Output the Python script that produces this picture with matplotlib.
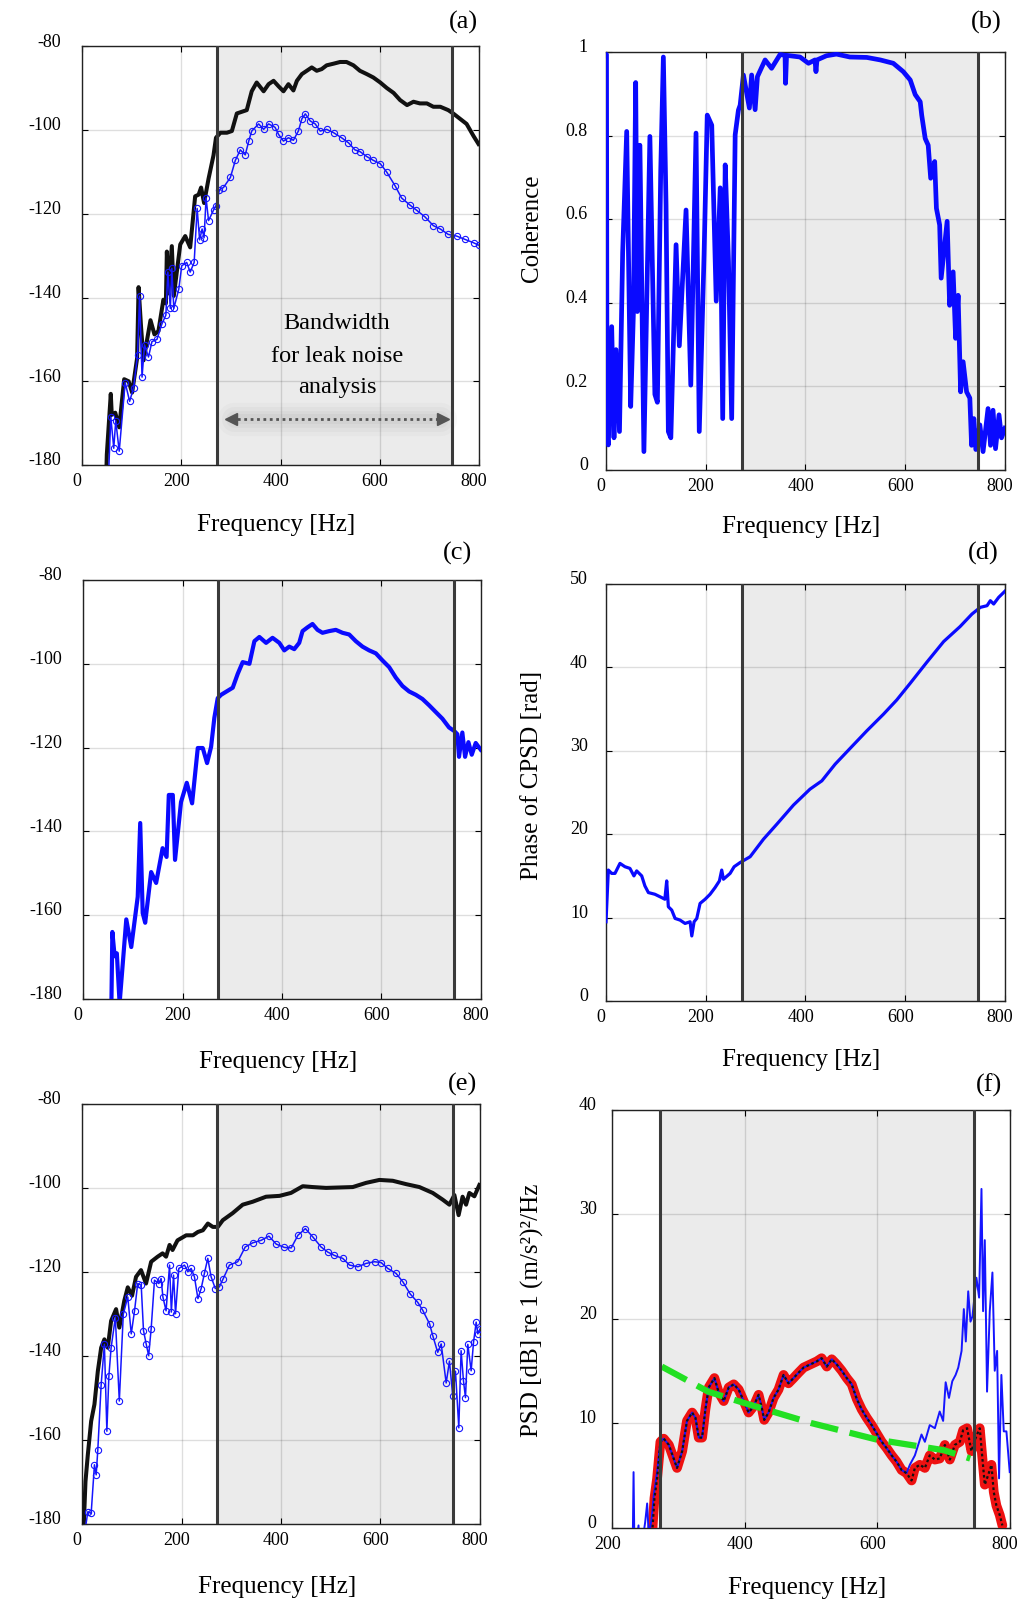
import matplotlib
matplotlib.use("Agg")
import matplotlib.pyplot as plt
from matplotlib.transforms import ScaledTranslation

plt.rcParams['font.family'] = ['Liberation Serif', 'DejaVu Serif']
plt.rcParams['axes.unicode_minus'] = False

# analysis band [Hz]
band = (272, 745)

# (a) PSD of the two sensors
fa_k = [49, 50, 58, 60, 67, 75, 85, 94, 101, 111, 114, 119, 124, 138, 146, 154, 164, 169, 171, 174,
        181, 185, 198, 208, 218, 228, 235, 240, 246, 255, 265, 270, 279, 292, 302, 312, 322, 332, 342, 352,
        366, 376, 386, 396, 406, 416, 426, 433, 443, 453, 463, 473, 483, 493, 507, 520, 533, 547, 560, 574,
        587, 601, 614, 628, 641, 655, 668, 681, 695, 708, 722, 738, 748, 762, 775, 789, 799]
pa_k = [-182, -177.5, -163, -168, -167.5, -171, -159.5, -160, -162.7, -154.5, -137.5, -147, -155, -145.4, -148.8, -148, -140.5, -141.4, -129, -139,
        -127.7, -139.6, -127.3, -125.3, -128, -115.8, -115.4, -113.7, -117.4, -111.6, -106, -101.8, -100.6, -100.6, -100.2, -96, -95.6, -95.2, -90.7, -88.6,
        -90.7, -89, -88.2, -89.5, -90.7, -89, -90.5, -88.2, -86.6, -85.8, -85, -85.8, -85.4, -84.5, -84.1, -83.7, -83.7, -84.5, -85.8, -86.6,
        -87.4, -88.6, -89.9, -91.1, -92.8, -94, -93.2, -93.6, -93.6, -94.4, -94.4, -95.2, -96, -97.3, -98.5, -101.4, -103.3]
fa_b = [54, 58, 64, 68, 75, 87, 96, 104, 112, 116, 121, 126, 134, 141, 151, 161, 169, 173, 178, 181,
        185, 195, 201, 211, 218, 226, 232, 237, 242, 246, 250, 255, 265, 270, 277, 285, 299, 309, 319, 329,
        336, 342, 356, 366, 376, 389, 396, 406, 416, 426, 436, 443, 450, 460, 470, 480, 493, 507, 523, 537,
        550, 560, 574, 587, 601, 614, 631, 644, 661, 674, 691, 708, 722, 738, 755, 772, 789, 800]
pa_b = [-181, -168.5, -176, -169.4, -176.7, -160.3, -164.8, -161.5, -153.7, -139.7, -159, -151.3, -154.2, -150.5, -150, -146.3, -144.2, -133.9, -142.6, -133,
        -142.6, -138, -132.4, -131.6, -133.9, -131.6, -118.7, -126.2, -123.6, -125.7, -116.2, -121.6, -119.1, -118, -114.2, -113.7, -111.3, -107.2, -104.7, -105.9,
        -102.6, -100.2, -98.5, -99.8, -98.5, -99.3, -101, -102.6, -101.8, -102.4, -100.2, -97.3, -96.1, -97.8, -98.5, -100.2, -99.8, -100.6, -101.8, -103,
        -104.7, -105.1, -106.3, -107.2, -108, -110, -113.3, -116.2, -117.9, -119.1, -120.7, -122.8, -123.6, -124.9, -125.3, -126.1, -126.9, -127.5]

# (b) coherence
fb = [0, 1, 2, 4.7, 11.4, 16, 20, 27, 33.4, 41.5, 49.5, 55, 59.5, 62.8, 68, 76, 88, 98, 103, 109.7,
      115, 120.4, 125, 130, 140.5, 147, 154, 160.5, 170, 180.5, 187, 196.6, 203, 212, 221, 229, 234, 239, 245.6, 252,
      259, 265.5, 269, 275.5, 287.5, 292, 299, 303.6, 319, 332, 349, 359, 360, 362, 389, 406, 419, 421, 423, 442,
      462, 489, 523, 550, 576, 596, 610, 620, 630, 633, 640, 646, 651, 659, 662.5, 669, 672, 684, 689, 696,
      701, 706, 711, 716, 723, 729.5, 733, 737.5, 741.5, 749.6, 756, 766, 771, 776, 781, 788, 793, 800]
cb = [0.994, 0.994, 0.084, 0.060, 0.343, 0.077, 0.288, 0.092, 0.520, 0.810, 0.152, 0.379, 0.927, 0.379, 0.777, 0.044, 0.798, 0.181, 0.162, 0.714,
      0.988, 0.633, 0.092, 0.077, 0.539, 0.297, 0.467, 0.622, 0.203, 0.806, 0.092, 0.514, 0.849, 0.825, 0.404, 0.675, 0.123, 0.730, 0.498, 0.123,
      0.802, 0.861, 0.873, 0.945, 0.866, 0.945, 0.862, 0.941, 0.981, 0.961, 0.994, 0.992, 0.925, 0.992, 0.988, 0.973, 0.981, 0.953, 0.981, 0.991,
      0.995, 0.988, 0.987, 0.981, 0.973, 0.953, 0.933, 0.898, 0.881, 0.849, 0.793, 0.777, 0.698, 0.738, 0.626, 0.586, 0.459, 0.595, 0.394, 0.474,
      0.315, 0.418, 0.187, 0.259, 0.187, 0.172, 0.059, 0.123, 0.049, 0.108, 0.044, 0.147, 0.059, 0.143, 0.051, 0.132, 0.077, 0.100]

# (c) CPSD magnitude
fc = [57, 59, 63.6, 68, 73.6, 87, 97, 110, 115, 120, 125, 137, 147, 160, 168, 172.5, 180.5, 185, 197, 208.6,
      219.3, 230.7, 240.7, 249.4, 257.5, 264, 270.8, 277.6, 301, 311, 321, 334.5, 344.5, 354.5, 368, 381, 394.6, 404.6, 414.6, 424.6,
      434.6, 441.3, 451.3, 461.3, 471.4, 481.4, 494.8, 508.2, 521.6, 535, 548.4, 561.8, 575.2, 588.6, 602, 615.4, 628.8, 642.2, 655.5, 669,
      682.3, 695.7, 709, 722.4, 735.8, 745.8, 752.5, 755.8, 762.5, 768, 774.7, 781.4, 789.4, 799.4]
pc = [-182, -164, -169.8, -169.1, -181, -161, -167.6, -155.6, -138, -159.5, -161.8, -149.7, -152.3, -144, -146.1, -131.3, -131.3, -146.8, -133, -128.4,
      -133.3, -120.1, -120.1, -123.7, -119.8, -112.9, -108.2, -107.4, -105.7, -102.4, -99.6, -100, -94.6, -93.6, -95, -93.8, -95, -96.8, -95.9, -96.5,
      -95, -92.2, -91.3, -90.5, -91.9, -92.6, -92.2, -91.9, -92.6, -93, -94.6, -95.9, -96.8, -97.5, -99.2, -100.8, -103.3, -105.3, -106.6, -107.4,
      -108.4, -109.9, -111.5, -113.1, -115.2, -116, -116.8, -122.2, -116.4, -122.2, -118.7, -121.7, -118.9, -120.5]

# (d) phase of CPSD
fd = [0, 4.7, 11.4, 18, 28, 38, 48, 56, 61.5, 71.6, 78, 85, 98, 111.7, 118, 121.7, 125, 131.8, 138.5, 148.5,
      158.5, 168.6, 172, 176.6, 182, 188.6, 198.7, 208.7, 218.7, 227.4, 232, 235.5, 248.8, 256.9, 268.9, 289, 315.7, 342.5, 376, 409,
      432.8, 459.5, 489.6, 523, 556.5, 583, 610, 643, 677, 710, 733.8, 750.5, 764, 770.6, 777.3, 787.3, 801]
phd = [9.5, 15.7, 15.3, 15.3, 16.5, 16.1, 15.9, 15.0, 15.6, 15.0, 13.8, 13.0, 12.8, 12.4, 12.2, 14.4, 11.3, 10.9, 9.9, 9.7,
       9.3, 9.5, 7.8, 9.5, 9.9, 11.7, 12.2, 12.8, 13.6, 14.4, 15.7, 14.6, 15.3, 16.1, 16.6, 17.3, 19.4, 21.2, 23.5, 25.4,
       26.4, 28.4, 30.3, 32.4, 34.4, 36.1, 38.1, 40.6, 43.1, 44.9, 46.4, 47.2, 47.4, 48.0, 47.6, 48.4, 49.2]

# (e) PSD, second case
fe_k = [3, 7, 11.7, 18.4, 25, 31.8, 38.5, 45, 51.8, 58.5, 68.5, 75, 85, 92, 100.6, 108.6, 118.6, 128.7, 139, 152,
        162, 169, 176, 182, 192, 209.4, 223, 233, 243, 253, 263, 273, 283, 303, 323, 343, 370, 397, 420, 443.7,
        463.8, 490.6, 517.4, 544.2, 571, 597.8, 624.6, 651.4, 678.2, 705, 725, 738.5, 748.5, 757, 765, 772, 778.6, 788.7, 798.7]
pe_k = [-182, -170, -163.6, -155.6, -151.6, -143.7, -138.1, -136.1, -138.1, -131.7, -128.9, -133.3, -126.9, -123.7, -125.7, -121.2, -119.6, -122.8, -117.6, -116.4,
        -115.6, -116.4, -113.6, -114.8, -112.5, -111.3, -111.3, -110.5, -110.1, -108.5, -109.3, -109.3, -107.7, -106, -104, -103.3, -102.1, -101.9, -101.2, -99.6,
        -99.8, -100, -99.9, -99.8, -98.8, -98.1, -98.3, -99.1, -99.8, -101.2, -102.8, -104, -101.7, -106.5, -102.1, -104, -101.2, -102, -99.3]
fe_b = [7, 11.7, 18.4, 25, 28.5, 31.8, 38.5, 45, 50, 54, 58.5, 67, 75, 83, 92, 99, 105.6, 112, 119, 123.6,
        129, 134, 139, 145.7, 154.4, 159, 162.6, 169, 176, 179.6, 184, 188, 194.6, 206, 212.7, 219.4, 226, 233, 239.5, 246,
        252.8, 259.5, 268, 276, 284, 296.4, 313, 328, 343, 360, 375.7, 390.4, 407, 420.6, 434, 449, 464, 480.7, 494, 507.4,
        524, 537.7, 554.4, 571, 588, 601.3, 614.7, 631.4, 645, 659.8, 675, 685, 698.6, 705, 715, 722, 732, 738.6, 745.3, 750.7,
        757.4, 762, 766.8, 770.8, 775.5, 782.2, 787, 792.3, 795.6, 799.6]
pe_b = [-181, -177.2, -177.6, -166, -168.4, -162.4, -146.9, -137.3, -158, -144.9, -138.1, -130.9, -150.8, -130.1, -126, -134.8, -129.3, -122.8, -123.2, -134,
        -137.2, -140, -133.6, -122, -122.8, -121.6, -126, -129.3, -118.4, -129.6, -120.8, -130, -119.2, -118.4, -120, -119.2, -121.2, -126.4, -124, -120.4,
        -116.8, -121.2, -124, -123.6, -121.6, -118.4, -117.6, -114.1, -113.1, -112.5, -111.5, -113.4, -114.2, -114.3, -111.3, -109.7, -111.7, -114.1, -115.3, -116.1,
        -116.8, -118.4, -118.8, -118, -117.6, -117.8, -119.2, -120.4, -122.4, -125.3, -127.3, -129.2, -132.4, -135.2, -139.2, -137.2, -146.5, -141.3, -149.7, -143.7,
        -157.2, -138.8, -146, -150, -137.3, -143.6, -136.8, -132, -134.8, -133.7]

# (f) leak PSD
ff_r = [260.6, 264, 268, 273, 278, 285.7, 293, 298, 305.8, 313, 320.8, 325.8, 330.8, 335.8, 340.8, 345.8, 354.4, 361, 368.4, 376,
        383.5, 391, 398.5, 406, 413.5, 421, 426, 429.5, 436, 443.6, 451, 458.6, 466, 473.7, 481, 488.7, 498.7, 508.8, 516, 523.8,
        531.3, 538.8, 546.4, 553.9, 561.4, 569, 576.4, 584, 591.5, 599, 606.6, 614, 621.6, 629, 636.6, 644, 651.6, 656.6, 664, 671.7,
        679, 686.7, 694, 701.8, 709.3, 716.8, 724.3, 729.3, 735.3, 741.8, 748.4, 754.4, 758.4, 762, 767, 772, 775.5, 779.5, 784.5, 788.5]
pf_r = [-0.5, 2.8, 4.7, 8.2, 8.5, 7.9, 6.6, 5.7, 7.3, 10.2, 11, 10.5, 8.6, 8.6, 11.3, 13.4, 14.3, 12.9, 12.1, 13.4,
        13.7, 13.2, 12.1, 11, 11.6, 12.7, 11.4, 10.3, 11, 12.4, 13.2, 14.6, 13.8, 14.3, 14.8, 15.3, 15.6, 15.9, 16.2, 15.4,
        16.1, 15.6, 15, 14.3, 13.7, 12.3, 11.3, 10.5, 9.8, 9, 8.2, 7.6, 6.9, 6.3, 5.5, 5.2, 4.5, 5.7, 6, 5.7,
        6.9, 6.5, 6.6, 7.9, 6.5, 7.9, 8.2, 9.3, 9.5, 7.3, 8.6, 9.5, 6.6, 4.1, 5, 6, 3.4, 2.1, 1.2, 0.2]
ff_b_lo = [231, 232.5, 234, 240, 242, 250, 253, 255.6, 260, 263, 268]
pf_b_lo = [-3, 5.3, -3, 0.2, -3, 0.5, 2.3, -1, 1, 3.1, 5.3]
ff_b_hi = [649, 656.6, 666.6, 671.7, 679, 686.7, 694, 699.2, 703, 708, 713, 718, 722, 727, 730.4, 733.4, 737, 740.4, 743.4, 749.4,
           753.4, 757, 759.4, 762, 765.4, 769.5, 773.5, 777, 780.6, 783.5, 787, 790.6, 794.6, 799.6]
pf_b_hi = [6.0, 6.9, 8.9, 8.2, 9.8, 9.5, 11.1, 10.2, 13.9, 12.4, 14, 14.6, 15.3, 16.9, 20.9, 17.8, 22.6, 19.7, 20.2, 23.9,
           22, 32.4, 20.7, 27.5, 13, 20.7, 24.4, 15, 16.9, 4.7, 14.6, 9.2, 9.2, 5.3]
ff_g = [275, 345, 400, 500, 600, 700, 740]
pf_g = [15.4, 13.0, 11.9, 10.0, 8.4, 7.4, 6.6]

# blue trace in (f) = low part + shared in-band part + high part
ff_b = ff_b_lo + ff_r[3:56] + ff_b_hi
pf_b = pf_b_lo + pf_r[3:56] + pf_b_hi

W, H = 1020, 1605
fig = plt.figure(figsize=(W / 100, H / 100), dpi=100)


def px_axes(x0, y0, x1, y1):
    return fig.add_axes([x0 / W, 1 - y1 / H, (x1 - x0) / W, (y1 - y0) / H])


def style(ax, xlim, ylim, yticks, ylabels, ypad, xlab_y):
    ax.axvspan(band[0], band[1], color='#ebebeb', lw=0, zorder=0.1)
    for b in band:
        ax.axvline(b, color='#3a3a3a', lw=2.2, zorder=6)
    ax.set_xlim(*xlim)
    ax.set_ylim(*ylim)
    xt = [t for t in [0, 200, 400, 600, 800] if xlim[0] <= t <= xlim[1]]
    ax.set_xticks(xt)
    ax.set_xticklabels([str(t) for t in xt])
    ax.set_yticks(yticks)
    ax.set_yticklabels(ylabels)
    ax.set_axisbelow(True)
    ax.grid(True, color='black', alpha=0.13, lw=1.0)
    ax.tick_params(direction='in', length=4, width=0.8, top=True, right=True,
                   labelsize=13, colors='black')
    ax.tick_params(axis='y', pad=ypad)
    ax.tick_params(axis='x', pad=6)
    for s in ax.spines.values():
        s.set_linewidth(1.0)
        s.set_color('#222222')
    up = ScaledTranslation(0, 4.5 / 72, fig.dpi_scale_trans)
    left = ScaledTranslation(-3.5 / 72, 0, fig.dpi_scale_trans)
    for lab in ax.get_yticklabels():
        lab.set_transform(lab.get_transform() + up)
    for lab in ax.get_xticklabels():
        lab.set_transform(lab.get_transform() + left)
    ax.set_xlabel('Frequency [Hz]', fontsize=18, va='center')
    ax.xaxis.set_label_coords(0.49, xlab_y)


db_ticks = [-180, -160, -140, -120, -100, -80]
db_labels = [str(t) for t in db_ticks]

# ---- (a)
ax = px_axes(82, 46.5, 479, 465)
style(ax, (0, 800), (-180, -80), db_ticks, db_labels, 15, -0.143)
ax.plot(fa_k, pa_k, color='#111111', lw=2.9, zorder=3)
ax.plot(fa_b, pa_b, color='#1515ff', lw=1.1, marker='o', ms=4.5, mfc='none', mew=0.8, zorder=4)
for txt, yy in [('Bandwidth', -146.3), ('for leak noise', -154.1), ('analysis', -161.5)]:
    ax.text(514, yy, txt, ha='center', va='center', fontsize=17.5, zorder=7)
arrow_y = -169.1
arrow_x = (300, 728)
for lw_, al in [(24, 0.04), (18, 0.05), (12, 0.06), (7, 0.07)]:
    ax.plot([arrow_x[0] + 6, arrow_x[1] - 6], [arrow_y, arrow_y], color='#777777', lw=lw_,
            alpha=al, solid_capstyle='round', zorder=6.5)
ax.plot([arrow_x[0], arrow_x[1]], [arrow_y, arrow_y], color='#555555', lw=2,
        ls=(0, (1, 1.3)), zorder=7)
ax.plot([arrow_x[0]], [arrow_y], marker='<', ms=9, color='#555555', zorder=7, ls='none')
ax.plot([arrow_x[1]], [arrow_y], marker='>', ms=9, color='#555555', zorder=7, ls='none')

# ---- (b)
ax = px_axes(606, 52, 1005, 470)
style(ax, (0, 800), (0, 1), [0, 0.2, 0.4, 0.6, 0.8, 1],
      ['0', '0.2', '0.4', '0.6', '0.8', '1'], 13, -0.136)
ax.plot(fb, cb, color='#0a0aff', lw=3.4, zorder=3)
ax.set_ylabel('Coherence', fontsize=18, va='center')
ax.yaxis.set_label_coords(-0.185, 0.579)

# ---- (c)
ax = px_axes(83, 580, 481, 999)
style(ax, (0, 800), (-180, -80), db_ticks, db_labels, 15, -0.150)
ax.plot(fc, pc, color='#0a0aff', lw=3.0, zorder=3)

# ---- (d)
ax = px_axes(606, 584, 1005, 1001)
style(ax, (0, 800), (0, 50), [0, 10, 20, 30, 40, 50],
      ['0', '10', '20', '30', '40', '50'], 13, -0.141)
ax.plot(fd, phd, color='#0a0aff', lw=2.3, zorder=3)
ax.set_ylabel('Phase of CPSD [rad]', fontsize=18, va='center')
ax.yaxis.set_label_coords(-0.185, 0.54)

# ---- (e)
ax = px_axes(82, 1104, 480, 1523.5)
style(ax, (0, 800), (-180, -80), db_ticks, db_labels, 15, -0.151)
ax.plot(fe_k, pe_k, color='#111111', lw=2.9, zorder=3)
ax.plot(fe_b, pe_b, color='#1515ff', lw=1.1, marker='o', ms=4.5, mfc='none', mew=0.8, zorder=4)

# ---- (f)
ax = px_axes(612, 1109.5, 1010, 1527.5)
style(ax, (200, 800), (0, 40), [0, 10, 20, 30, 40],
      ['0', '10', '20', '30', '40'], 11, -0.145)
ax.plot(ff_r, pf_r, color='#ee1111', lw=7, zorder=3, solid_capstyle='round')
ax.plot(ff_b, pf_b, color='#1515ff', lw=1.4, zorder=4)
ax.plot(ff_r, pf_r, color='#111111', lw=1.6, ls=(0, (1.2, 1.2)), zorder=5)
g, = ax.plot(ff_g, pf_g, color='#22e022', lw=4.5, zorder=5.5)
g.set_dashes((4.5, 1.9))
ax.set_ylabel('PSD [dB] re 1 (m/s²)²/Hz', fontsize=18, va='center')
ax.yaxis.set_label_coords(-0.2, 0.52)

# panel letters
for lab, x, y in [('(a)', 463, 22), ('(b)', 986, 22), ('(c)', 458, 553),
                  ('(d)', 983, 553), ('(e)', 463, 1084), ('(f)', 989, 1085)]:
    fig.text(x / W, 1 - y / H, lab, ha='center', va='center', fontsize=19)

fig.savefig('out.png', dpi=100)
